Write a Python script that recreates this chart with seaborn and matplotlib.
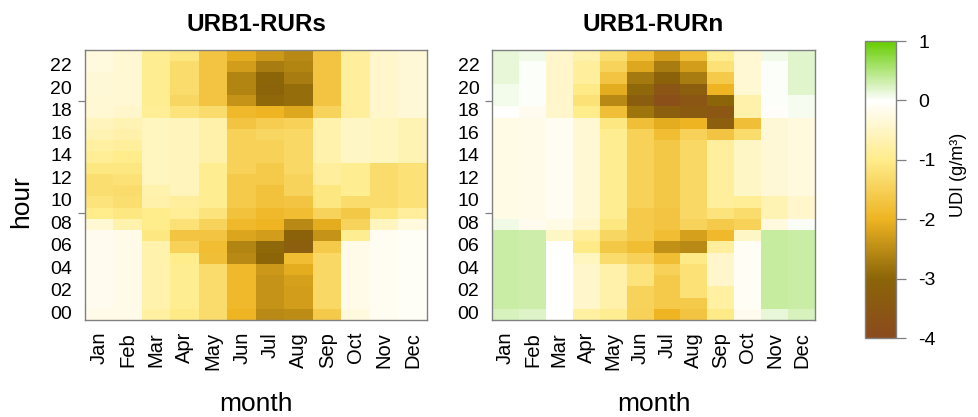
import numpy as np
import pandas as pd
import matplotlib
matplotlib.use("Agg")
import matplotlib.pyplot as plt
import seaborn as sns
from matplotlib.colors import LinearSegmentedColormap

# ---- categories -------------------------------------------------------------
months = ["Jan", "Feb", "Mar", "Apr", "May", "Jun",
          "Jul", "Aug", "Sep", "Oct", "Nov", "Dec"]
hours = [f"{h:02d}" for h in range(24)]
hour_labels = hours[::2]
cbar_ticks = [1, 0, -1, -2, -3, -4]

# ---- UDI (g/m3), rows = hour 00..23, columns = Jan..Dec ----------------------
udi_rurs = [
    [-0.20, -0.20, -0.80, -1.05, -1.30, -2.00, -2.55, -2.50, -1.60, -0.30, -0.12, -0.08],  # 00
    [-0.15, -0.20, -0.70, -0.95, -1.30, -1.90, -2.40, -2.30, -1.35, -0.20, -0.12, -0.08],  # 01
    [-0.15, -0.20, -0.70, -0.95, -1.30, -1.90, -2.40, -2.30, -1.35, -0.20, -0.12, -0.08],  # 02
    [-0.15, -0.20, -0.70, -0.95, -1.30, -1.90, -2.40, -2.25, -1.35, -0.20, -0.12, -0.08],  # 03
    [-0.15, -0.20, -0.70, -0.95, -1.30, -1.90, -2.35, -2.10, -1.35, -0.20, -0.12, -0.08],  # 04
    [-0.15, -0.20, -0.70, -1.00, -1.80, -2.55, -3.00, -1.85, -1.35, -0.20, -0.12, -0.08],  # 05
    [-0.15, -0.20, -0.70, -1.50, -1.85, -2.60, -2.95, -3.20, -1.60, -0.20, -0.12, -0.08],  # 06
    [-0.15, -0.20, -1.10, -1.70, -1.70, -2.20, -2.30, -3.10, -2.40, -0.95, -0.12, -0.08],  # 07
    [-0.40, -0.70, -1.00, -1.20, -1.45, -1.90, -2.00, -2.55, -2.10, -1.45, -0.55, -0.30],  # 08
    [-1.00, -1.10, -1.00, -0.90, -1.15, -1.75, -1.90, -1.85, -1.45, -1.65, -1.10, -0.85],  # 09
    [-1.15, -1.25, -0.75, -0.85, -0.95, -1.60, -1.75, -1.70, -1.10, -1.30, -1.30, -1.20],  # 10
    [-1.25, -1.30, -0.70, -0.60, -0.95, -1.60, -1.75, -1.45, -1.10, -0.95, -1.30, -1.20],  # 11
    [-1.25, -1.20, -0.55, -0.60, -0.95, -1.60, -1.60, -1.45, -0.85, -0.95, -1.30, -1.20],  # 12
    [-1.10, -1.10, -0.55, -0.60, -0.95, -1.50, -1.60, -1.35, -0.85, -0.95, -1.30, -1.20],  # 13
    [-0.90, -1.00, -0.55, -0.60, -0.75, -1.50, -1.50, -1.35, -0.70, -0.50, -0.55, -0.65],  # 14
    [-0.80, -0.85, -0.55, -0.60, -0.75, -1.50, -1.50, -1.35, -0.70, -0.50, -0.55, -0.65],  # 15
    [-0.65, -0.75, -0.55, -0.60, -0.75, -1.50, -1.40, -1.35, -0.70, -0.50, -0.55, -0.65],  # 16
    [-0.60, -0.65, -0.55, -0.60, -0.75, -1.70, -1.55, -1.50, -0.70, -0.50, -0.55, -0.65],  # 17
    [-0.40, -0.45, -0.90, -1.15, -1.30, -1.90, -2.00, -2.15, -1.45, -0.85, -0.45, -0.35],  # 18
    [-0.40, -0.40, -0.95, -1.40, -1.70, -2.40, -2.95, -2.90, -1.70, -0.85, -0.45, -0.35],  # 19
    [-0.35, -0.40, -0.95, -1.30, -1.70, -2.60, -3.05, -2.90, -1.70, -0.85, -0.45, -0.35],  # 20
    [-0.35, -0.40, -0.95, -1.30, -1.70, -2.60, -3.00, -2.70, -1.70, -0.85, -0.45, -0.35],  # 21
    [-0.30, -0.40, -0.95, -1.30, -1.70, -2.30, -2.70, -2.60, -1.70, -0.85, -0.45, -0.35],  # 22
    [-0.30, -0.40, -0.95, -1.10, -1.70, -2.10, -2.35, -2.55, -1.70, -0.85, -0.45, -0.35],  # 23
]

udi_rurn = [
    [0.25, 0.20, -0.03, -0.80, -0.95, -1.50, -2.00, -1.70, -1.05, -0.15, 0.15, 0.25],  # 00
    [0.35, 0.33, -0.03, -0.45, -0.75, -1.45, -1.60, -1.60, -0.80, -0.10, 0.37, 0.34],  # 01
    [0.35, 0.33, -0.03, -0.45, -0.75, -1.45, -1.60, -1.20, -0.80, -0.10, 0.37, 0.34],  # 02
    [0.35, 0.33, -0.03, -0.45, -0.75, -1.15, -1.60, -1.20, -0.45, -0.10, 0.37, 0.34],  # 03
    [0.35, 0.33, -0.03, -0.45, -0.75, -1.15, -1.50, -1.20, -0.45, -0.10, 0.37, 0.34],  # 04
    [0.35, 0.33, -0.03, -0.55, -1.30, -1.50, -1.85, -1.05, -0.45, -0.10, 0.37, 0.34],  # 05
    [0.35, 0.33, -0.03, -1.05, -1.65, -1.85, -2.45, -2.55, -0.85, -0.10, 0.37, 0.34],  # 06
    [0.35, 0.33, -0.50, -0.85, -1.40, -1.60, -1.85, -2.25, -1.90, -0.50, 0.37, 0.34],  # 07
    [0.10, -0.15, -0.25, -0.45, -1.10, -1.60, -1.70, -1.45, -1.60, -1.50, -0.30, 0.03],  # 08
    [-0.25, -0.20, -0.12, -0.40, -0.95, -1.60, -1.70, -1.35, -1.15, -1.30, -0.65, -0.45],  # 09
    [-0.25, -0.20, -0.12, -0.40, -0.95, -1.50, -1.65, -1.35, -0.85, -0.90, -0.65, -0.45],  # 10
    [-0.25, -0.20, -0.12, -0.40, -0.95, -1.50, -1.65, -1.35, -0.85, -0.50, -0.35, -0.30],  # 11
    [-0.25, -0.20, -0.12, -0.40, -0.95, -1.50, -1.65, -1.35, -0.85, -0.50, -0.35, -0.30],  # 12
    [-0.25, -0.20, -0.12, -0.40, -0.95, -1.50, -1.65, -1.35, -0.85, -0.50, -0.35, -0.30],  # 13
    [-0.25, -0.20, -0.12, -0.40, -0.95, -1.50, -1.65, -1.35, -0.85, -0.50, -0.35, -0.30],  # 14
    [-0.25, -0.20, -0.12, -0.40, -0.95, -1.50, -1.65, -1.35, -0.85, -0.50, -0.35, -0.30],  # 15
    [-0.25, -0.20, -0.12, -0.40, -0.95, -1.50, -1.85, -1.50, -1.70, -1.30, -0.35, -0.30],  # 16
    [-0.25, -0.20, -0.12, -0.40, -1.10, -1.80, -2.10, -2.00, -3.20, -1.80, -0.35, -0.30],  # 17
    [-0.03, -0.15, -0.45, -1.00, -1.80, -2.80, -3.20, -3.40, -3.50, -0.75, -0.05, 0.05],  # 18
    [0.07, 0.02, -0.45, -1.20, -2.55, -3.30, -3.80, -3.55, -3.00, -0.75, 0.02, 0.05],  # 19
    [0.07, 0.02, -0.45, -1.05, -2.10, -2.95, -3.60, -3.20, -2.00, -0.40, 0.02, 0.18],  # 20
    [0.15, 0.02, -0.45, -0.85, -1.70, -2.75, -3.10, -2.70, -1.60, -0.40, 0.02, 0.18],  # 21
    [0.15, 0.02, -0.45, -0.85, -1.45, -2.15, -2.70, -2.30, -1.20, -0.40, 0.02, 0.18],  # 22
    [0.15, 0.10, -0.45, -0.70, -1.25, -1.80, -2.30, -1.80, -0.95, -0.40, 0.10, 0.18],  # 23
]

# ---- style --------------------------------------------------------------------
sns.set_style("white")
plt.rcParams["font.family"] = ["Liberation Sans", "DejaVu Sans"]
plt.rcParams["axes.unicode_minus"] = False
plt.rcParams["text.color"] = "black"
plt.rcParams["axes.labelcolor"] = "black"
plt.rcParams["xtick.color"] = "black"
plt.rcParams["ytick.color"] = "black"

# brown -> olive -> gold -> pale yellow -> white -> green, evenly spaced over -4..1
udi_cmap = LinearSegmentedColormap.from_list(
    "udi", ["#8B4A1E", "#8B6508", "#EEB422", "#FFEC8B", "#FFFFFF", "#66CD00"])

frame_grey = "#808080"

fig = plt.figure(figsize=(9.79, 4.17), dpi=100)
ax_s = fig.add_axes([0.0868, 0.2326, 0.3493, 0.6475])
ax_n = fig.add_axes([0.5026, 0.2326, 0.3299, 0.6475])
cax = fig.add_axes([0.8836, 0.1894, 0.0317, 0.7122])

panels = [(ax_s, udi_rurs, "URB1-RURs", False),
          (ax_n, udi_rurn, "URB1-RURn", True)]

for ax, grid, title, with_cbar in panels:
    df = pd.DataFrame(grid, index=hours, columns=months)
    sns.heatmap(df, ax=ax, cmap=udi_cmap, vmin=-4, vmax=1,
                cbar=with_cbar, cbar_ax=cax if with_cbar else None,
                xticklabels=True, yticklabels=True)
    ax.invert_yaxis()  # hour 00 at the bottom

    # labelled positions (no marks) and sparse tick marks
    ax.set_yticks(np.arange(0, 24, 2) + 0.5)
    ax.set_yticklabels(hour_labels, rotation=0, fontsize=14)
    ax.set_yticks(np.array([4, 9, 14, 19]) + 0.5, minor=True)
    ax.set_xticks(np.arange(12) + 0.5)
    ax.set_xticklabels(months, rotation=90, fontsize=14.5)
    ax.set_xticks(np.arange(1, 12, 2) + 0.5, minor=True)
    ax.tick_params(which="major", length=0, labelcolor="black")
    ax.tick_params(axis="y", which="major", pad=9.2)
    ax.tick_params(axis="x", which="major", pad=8.5)
    ax.tick_params(which="minor", length=5, width=0.9, color=frame_grey,
                   left=True, bottom=True)

    for sp in ax.spines.values():
        sp.set_visible(True)
        sp.set_color(frame_grey)
        sp.set_linewidth(1.0)

    ax.set_title(title, fontsize=17.5, fontweight="bold", pad=14, color="black")
    ax.set_xlabel("month", fontsize=19, color="black")
    ax.xaxis.set_label_coords(0.5, -0.267)
    ax.set_ylabel("")

ax_s.set_ylabel("hour", fontsize=19, color="black")
ax_s.yaxis.set_label_coords(-0.152, 0.44)

# colourbar
cbar = ax_n.collections[0].colorbar
cbar.set_ticks(cbar_ticks)
cbar.set_ticklabels([str(t) for t in cbar_ticks])
cbar.outline.set_visible(True)
cbar.outline.set_linewidth(1.0)
cbar.outline.set_edgecolor(frame_grey)
cbar.ax.tick_params(labelsize=14, length=7, width=0.9, color=frame_grey,
                    labelcolor="black", pad=9, right=True)
cbar.set_label("UDI (g/m³)", fontsize=13, color="black")
cbar.ax.yaxis.set_label_coords(2.74, 0.549)

fig.savefig("out.png", dpi=100)
